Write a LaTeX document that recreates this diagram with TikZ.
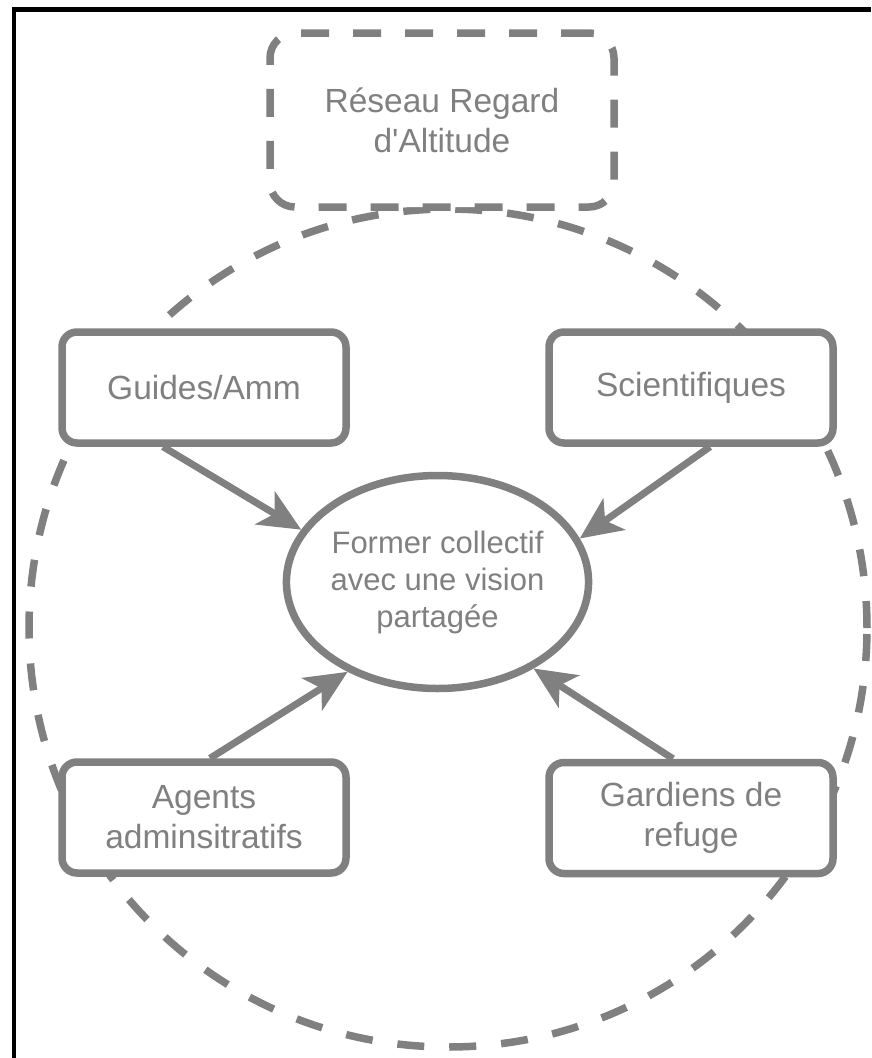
\documentclass[tikz,border=0pt]{standalone}
\usepackage{fontspec}
\setmainfont{Liberation Sans}
\usetikzlibrary{arrows.meta,shapes.geometric}
\definecolor{dgray}{HTML}{808080}
\begin{document}
\begin{tikzpicture}[x=1pt,y=-1pt,
  boxtext/.style={font=\fontsize{33.5}{40}\selectfont, text=dgray, align=center},
  solidbox/.style={boxtext, draw=dgray, line width=7.5pt, fill=white, rounded corners=15pt, minimum width=284pt, minimum height=111pt, inner sep=0pt},
  dashbox/.style={boxtext, draw=dgray, line width=7.5pt, fill=white, rounded corners=25pt, minimum width=344pt, minimum height=174pt, inner sep=0pt, dash pattern=on 28pt off 24pt},
  goalnode/.style={ellipse, draw=dgray, line width=7.5pt, fill=white, text=dgray, align=center, font=\fontsize{31}{37}\selectfont, minimum width=294pt, minimum height=213pt, inner sep=0pt},
  dashring/.style={draw=dgray, line width=7.5pt, dash pattern=on 27pt off 25pt},
  arr/.style={draw=dgray, line width=7pt, -{Stealth[length=42pt,width=38pt,inset=11pt]}},
  frameline/.style={draw=black, line width=4.5pt}
]
\useasboundingbox (0,0) rectangle (871,1058);
\fill[white] (0,0) rectangle (871,1058);

% frame
\coordinate (ftr) at (871,9.5);
\coordinate (ftl) at (14,9.5);
\coordinate (fbl) at (14,1058);
\draw[frameline] (ftr) -- (ftl) -- (fbl);

% dashed ring
\coordinate (ringc) at (448,628);
\draw[dashring] (ringc) circle[radius=419pt];

% nodes
\node[dashbox] (reseau) at (442,120) {Réseau Regard\\d\textquotesingle Altitude};
\node[solidbox] (guides) at (204,387.5) {Guides/Amm};
\node[solidbox] (scient) at (691,387.5) {Scientifiques};
\node[solidbox] (agents) at (204,817.5) {Agents\\adminsitratifs};
\node[solidbox] (gardiens) at (691,818) {Gardiens de\\refuge};
\node[goalnode] (goal) at (437.5,582) {Former collectif\\avec une vision\\partagée};

% arrows
\draw[arr] ([xshift=-41pt]guides.south) -- (goal.159);
\draw[arr] ([xshift=19pt]scient.south) -- (goal.17);
\draw[arr] ([xshift=6pt]agents.north) -- (goal.225);
\draw[arr] ([xshift=-18pt]gardiens.north) -- (goal.318);
\end{tikzpicture}
\end{document}
